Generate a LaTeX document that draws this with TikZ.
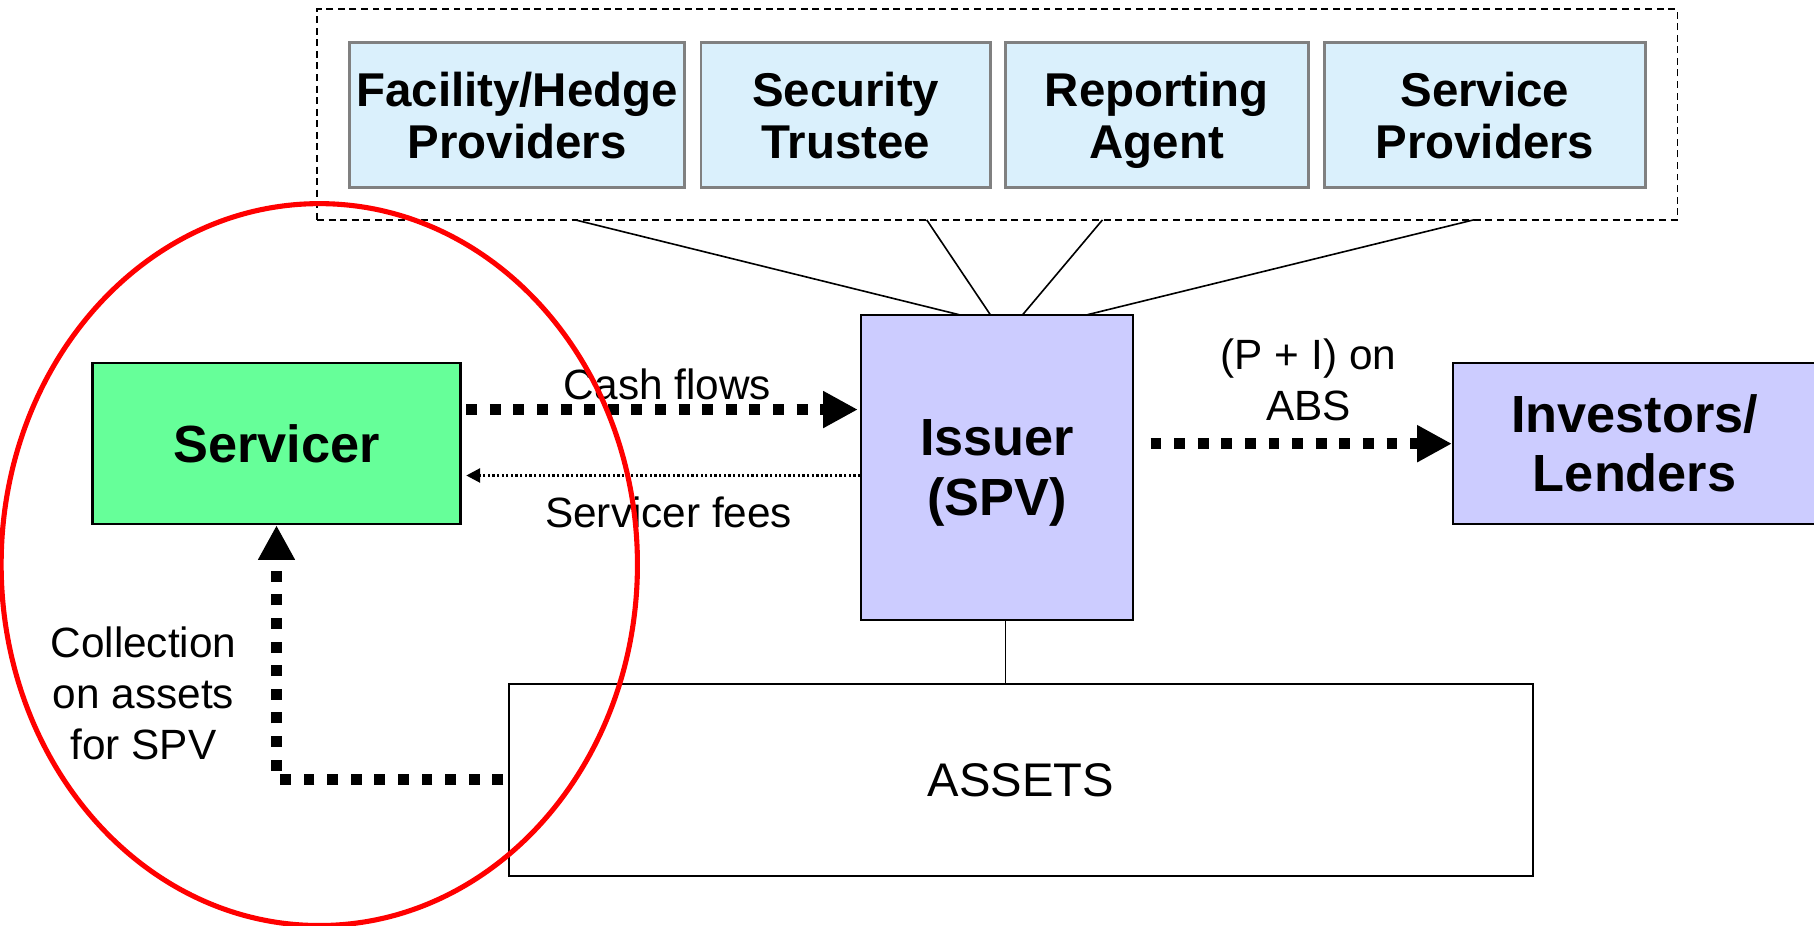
\documentclass[tikz,border=0pt]{standalone}
\usepackage{fontspec}
\setmainfont{Liberation Sans}
\usetikzlibrary{arrows.meta,calc}
\definecolor{topblue}{HTML}{DAF0FC}
\definecolor{spvblue}{HTML}{CCCCFF}
\definecolor{svgreen}{HTML}{66FF99}
\begin{document}
\begin{tikzpicture}[x=0.5pt,y=-0.5pt,
  container/.style={draw=black, line width=0.8pt, dash pattern=on 3pt off 2pt, inner sep=0pt, minimum width=588pt, minimum height=91pt},
  topbox/.style={draw=gray, line width=1.2pt, fill=topblue, inner sep=0pt, minimum height=62.5pt, text depth=0pt, align=center, font=\fontsize{20.5}{22.5}\selectfont\bfseries},
  mainbox/.style={draw=black, line width=1pt, inner sep=0pt, align=center, font=\fontsize{22.6}{25.5}\selectfont\bfseries},
  lbl/.style={font=\fontsize{18.3}{22}\selectfont, align=center, inner sep=0pt},
  flow/.style={line width=4.7pt, dash pattern=on 4.7pt off 5.5pt, -{Triangle[length=15pt,width=15pt]}},
  fee/.style={line width=1.2pt, dash pattern=on 1pt off 1pt, -{Triangle[length=6pt,width=6pt]}},
  link/.style={line width=0.7pt}]
\useasboundingbox (0,0) rectangle (1568,800);

% top group
\node[container] (cont) at (862,99) {};
\node[topbox, minimum width=145pt] (fac) at (447,99.5) {Facility/Hedge\\Providers};
\node[topbox, minimum width=125pt] (sec) at (731,99.5) {Security\\Trustee};
\node[topbox, minimum width=131pt] (rep) at (1000,99.5) {Reporting\\Agent};
\node[topbox, minimum width=138.5pt] (svp) at (1283.5,99.5) {Service\\Providers};

% main boxes
\node[mainbox, fill=spvblue, minimum width=117.5pt, minimum height=132pt, text depth=0pt,
      font=\fontsize{22.6}{26}\selectfont\bfseries] (issuer) at (862,404) {Issuer\\ (SPV)};
\node[mainbox, fill=svgreen, minimum width=159pt, minimum height=69.5pt] (servicer) at (239,383.5) {Servicer};
\node[mainbox, fill=spvblue, minimum width=157pt, minimum height=69.5pt] (inv) at (1413,383.5) {Investors/\\Lenders};
\node[draw=black, line width=1pt, inner sep=0pt, minimum width=442.5pt, minimum height=83pt,
      font=\fontsize{20.4}{24}\selectfont] (assets) at (882.5,674) {ASSETS};

% links from the group to the issuer
\coordinate (t1) at (497,190);  \coordinate (b1) at (829,272);
\coordinate (t2) at (801,190);  \coordinate (b2) at (856,272);
\coordinate (t3) at (953,190);  \coordinate (b3) at (884,272);
\coordinate (t4) at (1274,190); \coordinate (b4) at (940,272);
\draw[link] (t1) -- (b1);
\draw[link] (t2) -- (b2);
\draw[link] (t3) -- (b3);
\draw[link] (t4) -- (b4);

% issuer to assets
\coordinate (ia) at (869,0);
\draw[link] (issuer.south -| ia) -- (assets.north -| ia);

% flows
\coordinate (cf) at (0,354);
\coordinate (sf) at (0,411);
\draw[flow] ([xshift=2pt]servicer.east |- cf) -- ([xshift=-1pt]issuer.west |- cf);
\node[lbl] (cflbl) at (577,332) {Cash flows};
\draw[fee] (issuer.west |- sf) -- ([xshift=2pt]servicer.east |- sf);
\node[lbl] (sflbl) at (578,443) {Servicer fees};

\draw[flow] ([xshift=7pt]issuer.east |- inv.west) -- (inv.west);
\node[lbl] (pilbl) at (1131,328) {(P + I) on\\ABS};

\draw[flow] ([xshift=-2pt]assets.west) -| (servicer.south);
\node[lbl] (collbl) at (124,599) {Collection\\on assets\\for SPV};

% red ellipse
\draw[red, line width=2.2pt] (276,488) ellipse [x radius=137.5pt, y radius=156pt];
\end{tikzpicture}
\end{document}
